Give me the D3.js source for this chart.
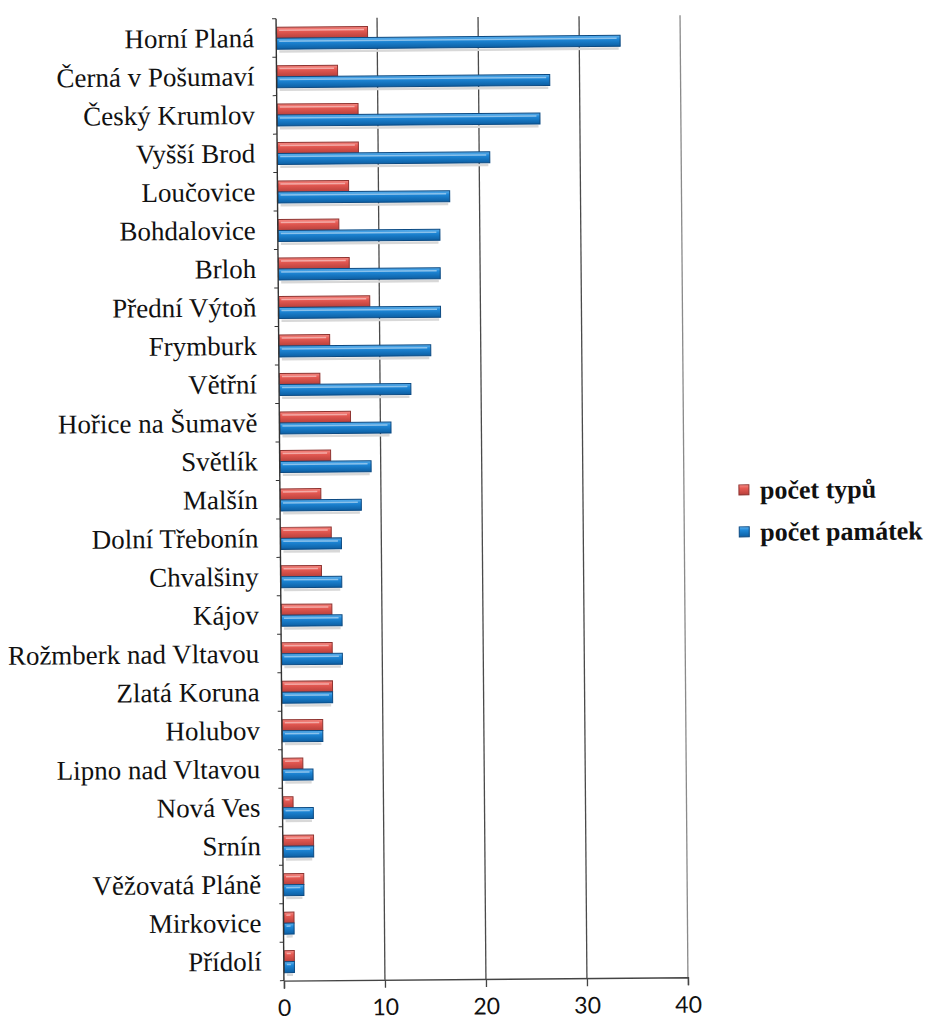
<!DOCTYPE html>
<html>
<head>
<meta charset="utf-8">
<script src="https://cdn.jsdelivr.net/npm/d3@7"></script>
<style>
  body { margin: 0; background: #fff; }
  svg { display: block; }
  .serif { font-family: "Liberation Serif", "Times New Roman", serif; }
  .sans { font-family: "Lato", "Open Sans", sans-serif; }
</style>
</head>
<body>
<svg id="chart" width="928" height="1023"></svg>
<script>
// categories, top to bottom
var obce = ["Horní Planá", "Černá v Pošumaví", "Český Krumlov", "Vyšší Brod", "Loučovice",
    "Bohdalovice", "Brloh", "Přední Výtoň", "Frymburk", "Větřní", "Hořice na Šumavě",
    "Světlík", "Malšín", "Dolní Třebonín", "Chvalšiny", "Kájov", "Rožmberk nad Vltavou",
    "Zlatá Koruna", "Holubov", "Lipno nad Vltavou", "Nová Ves", "Srnín", "Věžovatá Pláně",
    "Mirkovice", "Přídolí"];

var pocetTypu = [9, 6, 8, 8, 7, 6, 7, 9, 5, 4, 7, 5, 4, 5, 4, 5, 5, 5, 4, 2, 1, 3, 2, 1, 1];
var pocetPamatek = [34, 27, 26, 21, 17, 16, 16, 16, 15, 13, 11, 9, 8, 6, 6, 6, 6, 5, 4, 3, 3, 3, 2, 1, 1];

var seriesNames = ["počet typů", "počet památek"];
var xTicks = [0, 10, 20, 30, 40];

var svg = d3.select("#chart"),
    margin = { top: 17, left: 280 },
    width = 404,
    height = 962;

// the scan is a little tilted
var root = svg.append("g").attr("transform", "rotate(-0.47,480,500)");
var g = root.append("g").attr("transform", "translate(" + margin.left + "," + margin.top + ")");

var x = d3.scaleLinear().domain([0, 40]).range([0, width]);
var y = d3.scaleBand().domain(obce).range([0, height]);
var inner = d3.scaleBand().domain(seriesNames).range([8.5, 30.5]);
var colors = d3.scaleOrdinal().domain(seriesNames).range(["red", "blue"]);

var rows = obce.map(function(d, i) {
    return { name: d, values: [pocetTypu[i], pocetPamatek[i]] };
});

// gradients for the 3d look
var defs = svg.append("defs");
function grad(id, stops) {
    var lg = defs.append("linearGradient").attr("id", id)
        .attr("x1", 0).attr("y1", 0).attr("x2", 0).attr("y2", 1);
    stops.forEach(function(s) {
        lg.append("stop").attr("offset", s[0]).attr("stop-color", s[1]);
    });
}
grad("red", [[0, "#f58a84"], [0.35, "#e65a53"], [1, "#b8403b"]]);
grad("blue", [[0, "#5fb2ee"], [0.35, "#1d86d6"], [1, "#0d5fa3"]]);
var strokes = { red: "#8f3431", blue: "#0c4a82" };

// gridlines
g.append("g").selectAll("line").data(xTicks.slice(1)).enter()
    .append("line")
    .attr("x1", function(d) { return x(d); })
    .attr("x2", function(d) { return x(d); })
    .attr("y1", 0)
    .attr("y2", height)
    .style("stroke", function(d) { return d === 40 ? "#8a8a8a" : "#4a4a4a"; })
    .style("stroke-width", 1.3);

// shadows
var rowG = g.append("g").selectAll("g").data(rows).enter()
    .append("g")
    .attr("transform", function(d) { return "translate(0," + y(d.name) + ")"; });

rowG.append("rect")
    .attr("x", 3)
    .attr("y", inner("počet památek") + inner.bandwidth() + 1)
    .attr("width", function(d) { return Math.max(0, x(d.values[1]) - 4); })
    .attr("height", 2.5)
    .style("fill", "#d8d8d8");

rowG.selectAll("rect.bar")
    .data(function(d) { return d.values.map(function(v, i) { return { key: seriesNames[i], value: v }; }); })
    .enter().append("rect")
    .attr("class", "bar")
    .attr("x", 0.5)
    .attr("y", function(d) { return inner(d.key); })
    .attr("width", function(d) { return x(d.value); })
    .attr("height", inner.bandwidth())
    .style("fill", function(d) { return "url(#" + colors(d.key) + ")"; })
    .style("stroke", function(d) { return strokes[colors(d.key)]; })
    .style("stroke-width", 1);

// highlight streak on the bars
rowG.selectAll("line.hl")
    .data(function(d) { return d.values.map(function(v, i) { return { key: seriesNames[i], value: v }; }); })
    .enter().append("line")
    .attr("x1", 3)
    .attr("x2", function(d) { return Math.max(3, x(d.value) - 3); })
    .attr("y1", function(d) { return inner(d.key) + 3; })
    .attr("y2", function(d) { return inner(d.key) + 3; })
    .style("stroke", "#ffffff")
    .style("stroke-opacity", 0.45)
    .style("stroke-width", 1.5);

// vertical axis
g.append("line")
    .attr("x1", 0).attr("x2", 0).attr("y1", 0).attr("y2", height)
    .style("stroke", "#333").style("stroke-width", 1.4);

g.append("g").selectAll("line").data(d3.range(obce.length + 1)).enter()
    .append("line")
    .attr("x1", -4).attr("x2", 0)
    .attr("y1", function(i) { return i * y.step(); })
    .attr("y2", function(i) { return i * y.step(); })
    .style("stroke", "#333").style("stroke-width", 1);

// category labels
g.append("g").selectAll("text").data(obce).enter()
    .append("text")
    .attr("class", "serif")
    .attr("x", -22)
    .attr("y", function(d) { return y(d) + y.bandwidth() / 2 + 9; })
    .attr("text-anchor", "end")
    .attr("font-size", 27)
    .attr("fill", "#111")
    .text(function(d) { return d; });

// x axis
var xAxis = g.append("g")
    .attr("transform", "translate(0," + height + ")")
    .call(d3.axisBottom(x).tickValues(xTicks).tickSize(8).tickPadding(11));
xAxis.attr("font-family", null).attr("font-size", null);
xAxis.select(".domain").style("stroke", "#444").style("stroke-width", 1.4);
xAxis.selectAll(".tick line").style("stroke", "#444").style("stroke-width", 1.3);
xAxis.selectAll("text")
    .attr("class", "sans")
    .attr("font-size", 23)
    .attr("fill", "#111");

// legend
var legend = root.append("g").attr("transform", "translate(739,492)");
var li = legend.selectAll("g").data(seriesNames).enter()
    .append("g")
    .attr("transform", function(d, i) { return "translate(0," + (i * 42) + ")"; });
li.append("rect")
    .attr("x", 0).attr("y", -5).attr("width", 10).attr("height", 10)
    .style("fill", function(d) { return "url(#" + colors(d) + ")"; })
    .style("stroke", function(d) { return strokes[colors(d)]; });
li.append("text")
    .attr("class", "serif")
    .attr("x", 21).attr("y", 9)
    .attr("font-weight", "bold")
    .attr("font-size", 26)
    .attr("fill", "#111")
    .text(function(d) { return d; });
</script>
</body>
</html>
